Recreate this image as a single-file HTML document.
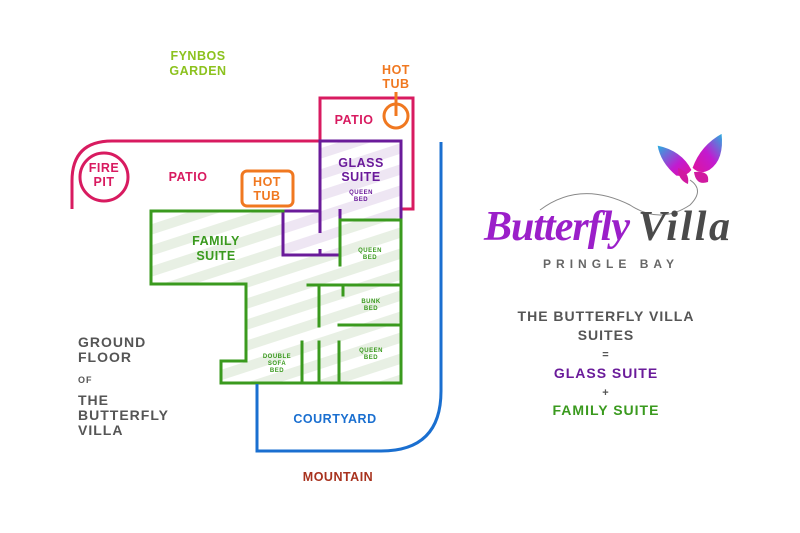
<!DOCTYPE html>
<html><head><meta charset="utf-8"><style>
html,body{margin:0;padding:0;background:#fff;}
svg{display:block;}
text{font-family:"Liberation Sans",sans-serif;font-weight:bold;}
</style></head><body>
<svg width="800" height="533" viewBox="0 0 800 533" xmlns="http://www.w3.org/2000/svg">
<defs>
<pattern id="gs" patternUnits="userSpaceOnUse" width="20" height="20" patternTransform="rotate(-18)">
<rect width="20" height="20" fill="#fff"/><rect width="20" height="10" fill="#e8f0e4"/></pattern>
<pattern id="ps" patternUnits="userSpaceOnUse" width="20" height="20" patternTransform="rotate(-18)">
<rect width="20" height="20" fill="#fff"/><rect width="20" height="10" fill="#eee6f3"/></pattern>
<linearGradient id="bf" x1="0" y1="0" x2="1" y2="1"><stop offset="0" stop-color="#22b4e0"/><stop offset="0.6" stop-color="#c21bd0"/><stop offset="1" stop-color="#e0139a"/></linearGradient>
<linearGradient id="bf2" x1="1" y1="0" x2="0" y2="1"><stop offset="0" stop-color="#22b4e0"/><stop offset="0.5" stop-color="#c21bd0"/><stop offset="1" stop-color="#e0139a"/></linearGradient>
</defs>

<polygon points="151,211 283,211 283,255 340,255 340,220 401,220 401,383 221,383 221,361 246,361 246,284 151,284" fill="url(#gs)"/>
<polygon points="320,141 401,141 401,220 340,220 340,255 283,255 283,211 320,211" fill="url(#ps)"/>

<g fill="none" stroke="#d81b60" stroke-width="3">
<path d="M72,209 L72,181 Q72,141 112,141 L320,141"/>
<polyline points="320,141 320,98 413,98 413,209 401,209"/>
<circle cx="104" cy="177" r="24"/>
</g>
<g fill="none" stroke="#f07820" stroke-width="3">
<rect x="242" y="171" width="51" height="35" rx="5"/>
<circle cx="396" cy="116" r="12"/>
<line x1="396" y1="92" x2="396" y2="116"/>
</g>
<g fill="none" stroke="#6a1b9a" stroke-width="3">
<polyline points="320,233 320,141 401,141 401,220"/>
<polyline points="283,211 320,211"/>
<polyline points="283,211 283,255 340,255"/>
<line x1="320" y1="249" x2="320" y2="255"/>
<line x1="340" y1="209" x2="340" y2="220"/>
</g>
<g fill="none" stroke="#3a9a1e" stroke-width="3" stroke-linecap="square">
<polyline points="283,211 151,211 151,284 246,284 246,361 221,361 221,383 401,383 401,220 340,220 340,265"/>
<line x1="308" y1="285" x2="401" y2="285"/>
<line x1="319" y1="285" x2="319" y2="326"/>
<line x1="343" y1="285" x2="343" y2="295"/>
<line x1="339" y1="325" x2="401" y2="325"/>
<line x1="302" y1="342" x2="302" y2="383"/>
<line x1="319" y1="342" x2="319" y2="383"/>
<line x1="339" y1="342" x2="339" y2="383"/>
</g>
<path d="M257,384 L257,451 L381,451 Q441,451 441,391 L441,142" fill="none" stroke="#1a6fd0" stroke-width="3"/>

<g text-anchor="middle" letter-spacing="0.5">
<text x="198" y="60" font-size="12.5" fill="#8cc21e">FYNBOS</text>
<text x="198" y="75" font-size="12.5" fill="#8cc21e">GARDEN</text>
<text x="396" y="74" font-size="12.5" fill="#f07820">HOT</text>
<text x="396" y="88" font-size="12.5" fill="#f07820">TUB</text>
<text x="354" y="124" font-size="12.5" fill="#d81b60">PATIO</text>
<text x="188" y="181" font-size="12.5" fill="#d81b60">PATIO</text>
<text x="104" y="172" font-size="12.5" fill="#d81b60">FIRE</text>
<text x="104" y="186" font-size="12.5" fill="#d81b60">PIT</text>
<text x="267" y="186" font-size="12.5" fill="#f07820">HOT</text>
<text x="267" y="200" font-size="12.5" fill="#f07820">TUB</text>
<text x="361" y="167" font-size="12.5" fill="#6a1b9a">GLASS</text>
<text x="361" y="181" font-size="12.5" fill="#6a1b9a">SUITE</text>
<text x="361" y="194" font-size="6" fill="#6a1b9a">QUEEN</text>
<text x="361" y="201" font-size="6" fill="#6a1b9a">BED</text>
<text x="216" y="245" font-size="12.5" fill="#3a9a1e">FAMILY</text>
<text x="216" y="260" font-size="12.5" fill="#3a9a1e">SUITE</text>
<text x="370" y="252" font-size="6" fill="#3a9a1e">QUEEN</text>
<text x="370" y="259" font-size="6" fill="#3a9a1e">BED</text>
<text x="371" y="303" font-size="6" fill="#3a9a1e">BUNK</text>
<text x="371" y="310" font-size="6" fill="#3a9a1e">BED</text>
<text x="371" y="352" font-size="6" fill="#3a9a1e">QUEEN</text>
<text x="371" y="359" font-size="6" fill="#3a9a1e">BED</text>
<text x="277" y="358" font-size="6" fill="#3a9a1e">DOUBLE</text>
<text x="277" y="365" font-size="6" fill="#3a9a1e">SOFA</text>
<text x="277" y="372" font-size="6" fill="#3a9a1e">BED</text>
<text x="335" y="423" font-size="12.5" fill="#1a6fd0">COURTYARD</text>
<text x="338" y="481" font-size="12.5" fill="#a8321e">MOUNTAIN</text>
</g>
<g fill="#555" letter-spacing="1">
<text x="78" y="347" font-size="14">GROUND</text>
<text x="78" y="362" font-size="14">FLOOR</text>
<text x="78" y="383" font-size="9">OF</text>
<text x="78" y="405" font-size="14">THE</text>
<text x="78" y="420" font-size="14">BUTTERFLY</text>
<text x="78" y="435" font-size="14">VILLA</text>
</g>
<g text-anchor="middle" letter-spacing="1">
<text x="606" y="321" font-size="14" fill="#555">THE BUTTERFLY VILLA</text>
<text x="606" y="340" font-size="14" fill="#555">SUITES</text>
<text x="606" y="358" font-size="11" fill="#555" font-weight="normal">=</text>
<text x="606" y="378" font-size="14" fill="#6a1b9a">GLASS SUITE</text>
<text x="606" y="396" font-size="11" fill="#555" font-weight="normal">+</text>
<text x="606" y="415" font-size="14" fill="#3a9a1e">FAMILY SUITE</text>
</g>

<path d="M540,210 Q580,180 630,205 Q660,225 690,205 Q705,190 690,180" fill="none" stroke="#888" stroke-width="1"/>
<path d="M657,145 Q682,150 692,170 Q686,178 676,176 Q660,163 657,145 Z" fill="url(#bf)" stroke="#fff" stroke-width="1"/>
<path d="M692,168 Q700,145 722,133 Q725,160 710,170 Q700,176 692,168 Z" fill="url(#bf2)" stroke="#fff" stroke-width="1"/>
<path d="M678,168 Q690,172 688,184 Q678,180 678,168 Z" fill="#d01aa0"/>
<path d="M694,172 Q710,170 708,182 Q696,186 694,172 Z" fill="#d01aa0"/>
<text x="484" y="240" font-style="italic" font-size="42" fill="#9b1fc9" font-weight="normal" style="font-family:'Liberation Serif',serif" textLength="146">Butterfly</text>
<text x="638" y="240" font-style="italic" font-size="42" fill="#4a4a4a" font-weight="normal" style="font-family:'Liberation Serif',serif" textLength="92">Villa</text>
<text x="611" y="268" font-size="12" fill="#666" font-weight="normal" text-anchor="middle" letter-spacing="5">PRINGLE BAY</text>
</svg>
</body></html>
